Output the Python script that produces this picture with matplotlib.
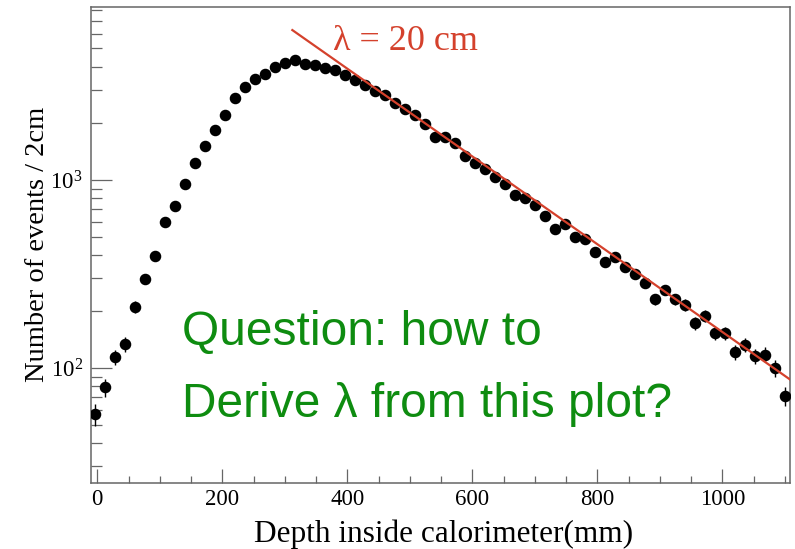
import numpy as np
import matplotlib
matplotlib.use("Agg")
import matplotlib.pyplot as plt
from matplotlib.ticker import FixedLocator, LogLocator, LogFormatterSciNotation, NullFormatter

plt.rcParams['font.family'] = ['Liberation Serif', 'DejaVu Serif']
plt.rcParams['mathtext.fontset'] = 'custom'
plt.rcParams['mathtext.rm'] = 'Liberation Serif'
plt.rcParams['mathtext.it'] = 'Liberation Serif:italic'

# shower depth bin centres (mm) and counts per bin
depth = [-4, 12, 28, 44, 60, 76, 92, 108, 124, 140,
         156, 172, 188, 204, 220, 236, 252, 268, 284, 300,
         316, 332, 348, 364, 380, 396, 412, 428, 444, 460,
         476, 492, 508, 524, 540, 556, 572, 588, 604, 620,
         636, 652, 668, 684, 700, 716, 732, 748, 764, 780,
         796, 812, 828, 844, 860, 876, 892, 908, 924, 940,
         956, 972, 988, 1004, 1020, 1036, 1052, 1068, 1084, 1100]
events = [57, 79, 114, 134, 212, 297, 395, 600, 730, 952,
          1236, 1516, 1843, 2222, 2716, 3106, 3439, 3668, 3998, 4166,
          4339, 4140, 4060, 3950, 3839, 3630, 3380, 3200, 2975, 2818,
          2550, 2380, 2214, 1983, 1698, 1686, 1566, 1341, 1227, 1144,
          1041, 952, 832, 799, 737, 646, 547, 582, 500, 484,
          416, 365, 391, 344, 317, 285, 233, 260, 233, 217,
          173, 190, 153, 153, 122, 133, 116, 118, 100, 71]
errors = np.sqrt(events)

# exponential fit drawn as a straight line on the log scale
fit_x = [312, 1108]
fit_y = [6260, 87]

fig = plt.figure(figsize=(7.95, 5.49), dpi=100)
ax = fig.add_axes([0.1145, 0.1202, 0.8792, 0.867])

ax.errorbar(depth, events, yerr=errors, fmt='o', color='black', ms=7.3,
            elinewidth=1.0, capsize=0, zorder=3)
ax.plot(fit_x, fit_y, color='#d4412c', lw=1.6, zorder=4)

ax.set_yscale('log')
ax.set_xlim(-10, 1108)
ax.set_ylim(24.5, 8300)

ax.xaxis.set_major_locator(FixedLocator([0, 200, 400, 600, 800, 1000]))
ax.xaxis.set_minor_locator(FixedLocator(list(range(50, 1101, 50))))
ax.yaxis.set_major_locator(LogLocator(base=10))
ax.yaxis.set_minor_locator(LogLocator(base=10, subs=np.arange(2, 10)))
ax.yaxis.set_major_formatter(LogFormatterSciNotation())
ax.yaxis.set_minor_formatter(NullFormatter())

ax.tick_params(axis='both', which='both', direction='in', color='#666666',
               width=0.9, labelsize=16.5)
ax.tick_params(axis='x', which='major', length=10, pad=4)
ax.tick_params(axis='x', which='minor', length=4.7)
ax.tick_params(axis='y', which='major', length=15, pad=6)
ax.tick_params(axis='y', which='minor', length=8)

for s in ax.spines.values():
    s.set_color('#666666')
    s.set_linewidth(1.1)

fig.text(0.558, 1 - 542 / 549, 'Depth inside calorimeter(mm)', fontsize=22.5,
         ha='center', va='baseline')
fig.text(0.047, 0.554, 'Number of events / 2cm', fontsize=20.5,
         rotation=90, ha='center', va='center')

fig.text(333 / 795, 1 - 50 / 549, 'λ = 20 cm', fontsize=26,
         color='#d4412c', ha='left', va='baseline')

green = '#0e8c10'
fig.text(182 / 795, 1 - 345 / 549, 'Question: how to', fontsize=34.5,
         family=['Liberation Sans', 'DejaVu Sans'], color=green,
         ha='left', va='baseline')
fig.text(182 / 795, 1 - 417 / 549, 'Derive λ from this plot?', fontsize=34.5,
         family=['Liberation Sans', 'DejaVu Sans'], color=green,
         ha='left', va='baseline')

fig.savefig('out.png', dpi=100, facecolor='white')
